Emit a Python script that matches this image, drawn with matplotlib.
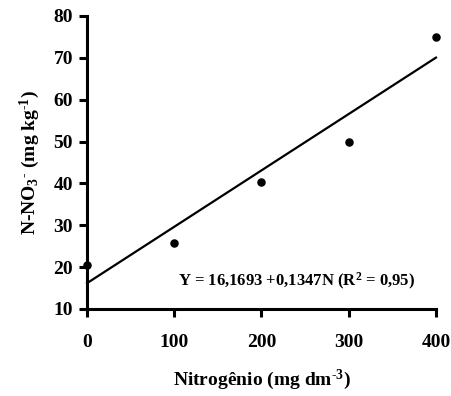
import matplotlib
matplotlib.use("Agg")
import matplotlib.pyplot as plt
import numpy as np

nitrogen = [0, 100, 200, 300, 400]
no3 = [20.5, 25.8, 40.3, 50.0, 75.0]
intercept = 16.1693
slope = 0.1347
xticks = [0, 100, 200, 300, 400]
yticks = [10, 20, 30, 40, 50, 60, 70, 80]

plt.rcParams['font.family'] = ['Liberation Serif', 'DejaVu Serif']
plt.rcParams['font.weight'] = 'bold'
plt.rcParams['mathtext.fontset'] = 'custom'
plt.rcParams['mathtext.rm'] = 'Liberation Serif:bold'
plt.rcParams['mathtext.it'] = 'Liberation Serif:bold'
plt.rcParams['mathtext.bf'] = 'Liberation Serif:bold'
plt.rcParams['mathtext.default'] = 'bf'

fig = plt.figure(figsize=(4.52, 3.96), dpi=100)
ax = fig.add_axes([0.1925, 0.2197, 0.772, 0.740])

ax.scatter(nitrogen, no3, s=26, color='black', zorder=3, clip_on=False)
xl = np.array([0, 400])
ax.plot(xl, intercept + slope * xl, color='black', lw=1.6, clip_on=False)

ax.set_xlim(0, 400)
ax.set_ylim(10, 80)
ax.set_xticks(xticks)
ax.set_yticks(yticks)
for s in ['top', 'right']:
    ax.spines[s].set_visible(False)
for s in ['left', 'bottom']:
    ax.spines[s].set_linewidth(2.2)
ax.tick_params(direction='out', width=2.2, length=6, labelsize=14, pad=4)
for lab in ax.get_xticklabels() + ax.get_yticklabels():
    lab.set_fontweight('bold')
ax.tick_params(axis='x', pad=12)

hy = '\u2010'
ax.set_xlabel('Nitrogênio (mg dm$^{' + hy + '3}$)', fontsize=14, fontweight='bold', labelpad=12)
ax.set_ylabel('N-NO$_3$$^{' + hy + '}$ (mg kg$^{' + hy + '1}$)', fontsize=14, fontweight='bold', labelpad=8)

ax.text(0.94, 0.095, 'Y = 16,1693 +0,1347N (R$^2$ = 0,95)', transform=ax.transAxes,
        ha='right', va='center', fontsize=12, fontweight='bold')

fig.savefig('out.png', dpi=100)
